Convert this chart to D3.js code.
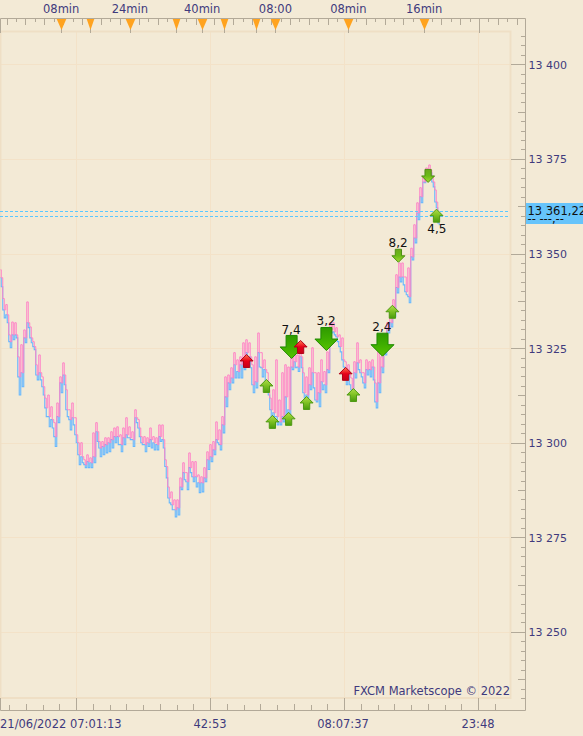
<!DOCTYPE html>
<html><head><meta charset="utf-8">
<script src="https://cdn.jsdelivr.net/npm/d3@7/dist/d3.min.js"></script>
<style>html,body{margin:0;padding:0;background:#f3ead6;overflow:hidden}svg{display:block}text{font-family:"DejaVu Sans",sans-serif}</style>
</head><body><svg id="c" width="583" height="736"></svg>
<script>
const priceBase=13000; // the three series below are points above this level
const askHigh=[345.7,338.1,336.5,328.5,331.9,331.7,322.7,325.9,329.8,337.2,330.6,326.7,320.6,323.2,317.4,311.8,312.6,309.5,305.3,310.5,317.4,321.1,314.0,308.7,310.5,306.6,300.0,300.0,295.5,296.8,296.0,302.6,305.3,300.3,300.3,301.3,301.3,302.9,303.9,304.2,302.1,303.9,306.6,304.2,302.9,308.7,306.1,301.6,301.6,301.3,303.9,301.6,301.3,304.7,304.7,295.5,288.3,287.0,284.9,284.9,290.7,294.7,292.1,297.3,295.0,295.0,291.5,291.0,293.4,297.6,299.5,300.3,305.5,303.4,306.9,317.4,317.9,319.8,323.8,321.9,322.7,326.4,327.2,326.4,320.6,322.7,329.0,323.8,321.9,318.5,311.8,314.0,321.9,311.3,318.5,320.6,320.0,322.7,324.0,323.2,326.4,318.5,317.4,319.8,325.1,318.5,318.5,321.9,318.8,324.0,331.7,331.7,330.4,328.5,327.7,321.4,320.6,317.1,321.4,326.4,321.9,318.5,321.9,321.4,321.9,315.8,324.6,322.7,327.7,331.7,333.8,337.8,344.4,347.5,347.5,343.8,346.2,351.4,357.6,363.4,367.4,370.3,372.6,373.4,370.3,366.8,359.7];
const askLow=[343.6,335.1,333.8,326.7,328.5,328.5,317.4,318.5,327.7,331.7,327.7,325.4,317.9,318.5,314.8,309.2,306.9,306.1,301.6,306.9,315.8,317.9,308.7,306.1,306.6,302.1,296.8,296.3,294.2,295.0,294.7,296.3,302.9,298.6,299.0,299.5,300.0,300.8,301.6,301.6,299.5,301.3,302.1,301.3,300.8,306.6,303.9,300.0,299.5,300.0,300.8,300.0,299.5,301.6,300.8,293.7,285.4,283.6,282.3,282.8,288.3,292.1,289.7,293.4,291.0,291.0,289.4,289.4,290.7,295.5,296.3,298.1,300.8,299.5,304.7,312.1,315.8,317.1,320.6,318.8,320.6,321.9,323.8,322.7,315.3,316.1,323.8,319.8,319.3,314.0,308.7,307.9,306.9,305.5,306.9,312.1,308.7,320.0,321.4,320.0,322.7,313.2,312.6,315.3,318.5,311.3,313.2,316.1,315.3,319.3,329.8,329.3,328.0,325.4,321.9,317.4,317.9,314.0,318.5,321.1,318.5,315.8,319.3,319.3,320.0,310.8,315.8,320.0,325.1,329.8,331.7,334.3,341.0,343.8,343.8,339.9,338.6,349.1,354.1,360.7,365.0,368.9,371.3,372.1,368.9,363.6,358.1];
const bidLow=[341.2,333.0,331.7,325.1,327.2,327.7,312.6,314.8,326.4,330.4,326.4,324.6,316.6,316.6,312.6,306.9,304.2,303.9,299.0,305.3,313.2,315.3,306.9,303.4,304.7,300.0,294.2,294.7,293.4,293.4,293.4,294.7,300.3,296.3,296.8,297.3,297.6,298.6,300.0,299.5,297.6,299.5,301.3,300.8,299.0,305.3,301.6,299.5,297.6,299.0,298.6,298.1,298.1,300.3,298.6,290.7,284.1,282.3,280.4,280.9,287.6,290.2,287.6,292.1,289.7,288.3,286.8,287.0,289.7,292.9,295.0,296.8,300.0,298.1,302.6,309.5,314.0,315.8,317.1,317.1,317.1,319.3,320.0,319.8,313.2,314.5,320.0,317.4,316.1,312.6,306.9,306.9,304.7,304.7,305.5,306.9,306.9,319.3,319.8,318.8,319.8,311.8,311.8,314.0,314.5,310.8,309.5,314.0,313.2,318.5,329.0,328.5,326.7,324.0,320.0,315.3,315.3,312.6,317.1,319.3,317.4,314.5,317.9,317.4,316.6,309.2,313.2,318.5,323.2,329.0,330.6,333.3,339.6,342.5,341.7,339.1,337.0,348.3,352.8,358.9,363.4,368.7,370.3,371.3,367.6,362.1,357.6];
const gridPrices=[13400,13375,13350,13325,13300,13275,13250];
const priceLabels=["13 400","13 375","13 350","13 325","13 300","13 275","13 250"];
const topLabels=["08min","24min","40min","08:00","08min","16min"];
const topLabelBars=[20.4,43.3,67.4,91.8,116.1,141.4];
const markerBars=[20.4,30.1,43.3,58.5,67.4,74.8,85.4,91.8,116.1,141.4];
const markerBig=[1,0,1,0,1,0,0,1,1,1];
const timeLabels=["21/06/2022 07:01:13","42:53","08:07:37","23:48"];
const timeBars=[25.33,70,114.67,159.33];
const upBars=[88.8,90.8,96.2,102.2,117.8,130.8,145.5];
const upPrices=[13315.0,13305.5,13306.3,13310.5,13312.6,13334.6,13360.0];
const downBars=[132.8,142.7];
const downPrices=[13349.4,13370.5];
const bigBars=[97.2,108.8,127.5];
const bigPrices=[13325.3,13327.4,13325.9];
const redBars=[82.2,100.2,115.2];
const redPrices=[13321.6,13325.3,13318.2];
const notes=["7,4","3,2","2,4","8,2","4,5"];
const noteBars=[97,108.7,127.3,132.7,145.6];
const notePrices=[13328.6,13331.0,13329.4,13351.6,13355.3];

const INK="#3f3a7d",RULE="#b2a998",GRID="#f3e2c8",EDGE="#efdfc5";
const svg=d3.select("#c");
const x=d3.scaleLinear().domain([0,146]).range([0,438]);
const y=d3.scaleLinear().domain([13250,13400]).range([631.9,64.3]);
const yv=v=>y(priceBase+v);
const defs=svg.append("defs");
function grad(id,stops){const g=defs.append("linearGradient").attr("id",id).attr("x1",0).attr("x2",0).attr("y1",0).attr("y2",1);
 stops.forEach((s,i)=>g.append("stop").attr("offset",i/(stops.length-1)).attr("stop-color",s));}
grad("gUp",["#b0de48","#7cc022","#489a0c"]);
grad("gDown",["#6aa81c","#6cbc16","#a6da34"]);
grad("gBig",["#2f9a00","#3fae00","#57c300"]);
grad("gRed",["#ff7a50","#e80018","#c4001a"]);
defs.append("clipPath").attr("id","tag").append("rect").attr("x",526).attr("y",203).attr("width",57).attr("height",21);

// grid and plot edge
svg.append("g").selectAll("line").data(gridPrices).join("line")
 .attr("x1",0).attr("x2",510).attr("y1",d=>Math.round(y(d))+.5).attr("y2",d=>Math.round(y(d))+.5).attr("stroke",GRID);
svg.append("g").selectAll("line").data(timeBars).join("line")
 .attr("x1",d=>Math.round(x(d))+.5).attr("x2",d=>Math.round(x(d))+.5).attr("y1",32).attr("y2",698).attr("stroke",GRID);
svg.append("path").attr("d","M.5 698V31.5H510.5V698H.5").attr("fill","none").attr("stroke",EDGE).attr("stroke-width",2);

// rulers
svg.append("path").attr("d","M0.5 33V18.5H525.5V710.5H0.5V698").attr("fill","none").attr("stroke",RULE);
const topTicks=d3.range(-50,5).map(k=>479+k*9.45).filter(v=>v>1&&v<524);
svg.append("g").selectAll("line").data(topTicks).join("line")
 .attr("x1",d=>Math.round(d)+.5).attr("x2",d=>Math.round(d)+.5).attr("y1",18.5).attr("y2",(d,i)=>i%2?22:25).attr("stroke",RULE);
svg.append("line").attr("x1",479.5).attr("x2",479.5).attr("y1",18).attr("y2",33).attr("stroke",RULE);
const botTicks=d3.range(-4,31).map(k=>76+k*16.75).filter(v=>v>1&&v<511);
svg.append("g").selectAll("line").data(botTicks).join("line")
 .attr("x1",d=>Math.round(d)+.5).attr("x2",d=>Math.round(d)+.5)
 .attr("y1",(d,i)=>(i%2?704:705)).attr("y2",710).attr("stroke",RULE);
svg.append("g").selectAll("line").data(timeBars).join("line")
 .attr("x1",d=>Math.round(x(d))+.5).attr("x2",d=>Math.round(x(d))+.5).attr("y1",698).attr("y2",710).attr("stroke",RULE);
const minor=d3.range(13232.5,13408,2.5);
svg.append("g").selectAll("line").data(minor).join("line")
 .attr("x1",d=>(Math.abs((d%25))<.01?511:(Math.abs(d%12.5)<.01?518:521)))
 .attr("x2",525).attr("y1",d=>Math.round(y(d))+.5).attr("y2",d=>Math.round(y(d))+.5).attr("stroke",RULE);

// series: each reading is a high and a low, so each line swings between the two
const idx=d3.range(askHigh.length);
const swing=(a,b)=>idx.flatMap(i=>[[i,a[i]],[i+.5,b[i]]]);
const stepLine=d3.line().x(d=>x(d[0])+.5).y(d=>yv(d[1])).curve(d3.curveStep);
svg.append("path").attr("d",stepLine(swing(askLow,bidLow))).attr("fill","none").attr("stroke","#66b8ff").attr("stroke-width",1.1);
svg.append("path").attr("d",stepLine(swing(askHigh,askLow))).attr("fill","none").attr("stroke","#ff82c6").attr("stroke-width",1);

// current price lines
[211.5,216.5].forEach(p=>svg.append("line").attr("x1",0).attr("x2",508)
 .attr("y1",p).attr("y2",p).attr("stroke","#5cc8ff").attr("stroke-dasharray","3 2"));

// arrows
function arrow(s,up){
 const h=s, st=s*.48, n=up?1:-1;
 const p=[[0,-n*h],[h,0],[st,0],[st,n*h],[-st,n*h],[-st,0],[-h,0]];
 return "M"+p.map(q=>q.join(" ")).join("L")+"Z";
}
function drawArrows(bars,prices,s,up,fill,stroke){
 svg.append("g").selectAll("path").data(bars).join("path")
  .attr("transform",(d,i)=>`translate(${x(d)},${y(prices[i])})`)
  .attr("d",arrow(s,up)).attr("fill",fill).attr("stroke",stroke).attr("stroke-width",1);
}
drawArrows(upBars,upPrices,6.5,true,"url(#gUp)","#4f9a14");
drawArrows(downBars,downPrices,6.5,false,"url(#gDown)","#4f8f14");
drawArrows(bigBars,bigPrices,11.5,false,"url(#gBig)","#1f8a00");
drawArrows(redBars,redPrices,6.5,true,"url(#gRed)","#b00018");

svg.append("g").selectAll("text").data(notes).join("text").text(d=>d)
 .attr("x",(d,i)=>x(noteBars[i])).attr("y",(d,i)=>y(notePrices[i])).attr("text-anchor","middle")
 .attr("font-size",12).attr("fill","#111");

// markers
svg.append("g").selectAll("line").data(markerBars).join("line")
 .attr("x1",d=>Math.round(x(d))+.5).attr("x2",d=>Math.round(x(d))+.5).attr("y1",18).attr("y2",33).attr("stroke",RULE);
svg.append("g").selectAll("path").data(markerBars).join("path")
 .attr("d",(d,i)=>{const c=Math.round(x(d))+.5,w=markerBig[i]?4.8:3.8;return `M${c-w} 19L${c+w} 19L${c} 30Z`;})
 .attr("fill","#ffa31f");

// labels
svg.append("g").selectAll("text").data(topLabels).join("text").text(d=>d)
 .attr("x",(d,i)=>x(topLabelBars[i])).attr("y",13).attr("text-anchor","middle").attr("font-size",11.5).attr("fill",INK);
svg.append("g").selectAll("text").data(timeLabels).join("text").text(d=>d)
 .attr("x",(d,i)=>i?x(timeBars[i])-(i==2?1:0):0).attr("y",728).attr("text-anchor",(d,i)=>i?"middle":"start").attr("font-size",11.5).attr("fill",INK);
svg.append("g").selectAll("text").data(priceLabels).join("text").text(d=>d)
 .attr("x",528.5).attr("y",(d,i)=>y(gridPrices[i])+4.5).attr("font-size",11).attr("fill",INK);
svg.append("text").text("FXCM Marketscope © 2022").attr("x",510).attr("y",695).attr("text-anchor","end").attr("font-size",11.5).attr("fill",INK);

// price tag
svg.append("rect").attr("x",526).attr("y",203).attr("width",57).attr("height",21).attr("fill","#66c4fb");
const tag=svg.append("g").attr("clip-path","url(#tag)");
tag.append("text").text("13 361,22").attr("x",527.5).attr("y",215).attr("font-size",11.5).attr("fill","#111");
tag.append("text").text("-- ---,--").attr("x",527.5).attr("y",223).attr("font-size",11.5).attr("fill","#111");
</script></body></html>
